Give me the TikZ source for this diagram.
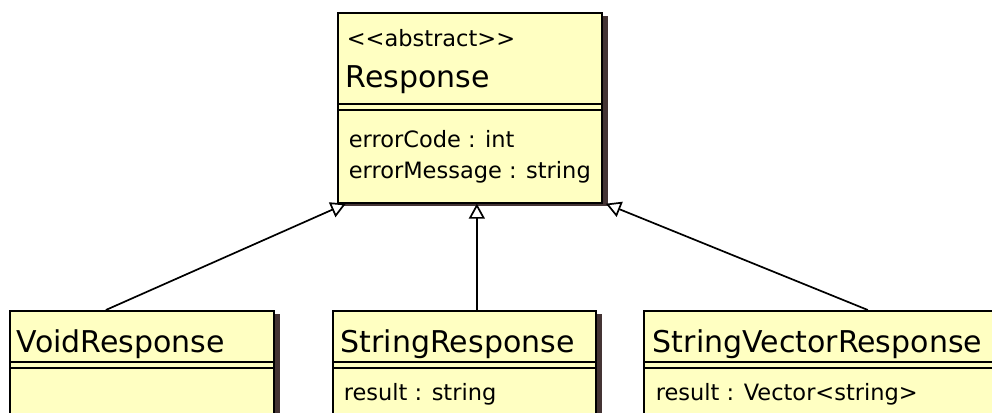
\documentclass[tikz,border=0pt]{standalone}
\usepackage{fontspec}
\setmainfont{DejaVu Sans}
\usetikzlibrary{arrows.meta, positioning, calc, shadows}

\definecolor{classfill}{HTML}{FFFFC2}
\definecolor{classshadow}{HTML}{443434}

\begin{document}
\begin{tikzpicture}[
    x=1pt, y=-1pt,
    line width=1.7pt,
    umlclass/.style={draw, rectangle, fill=classfill, inner sep=0pt, anchor=north west,
                     drop shadow={shadow xshift=6pt, shadow yshift=-3.5pt,
                                  fill=classshadow, opacity=1}},
    classname/.style={anchor=base west, inner sep=0pt, font=\fontsize{30}{36}\selectfont},
    member/.style={anchor=base west, inner sep=0pt, font=\fontsize{22.5}{27}\selectfont},
    extends/.style={-{Triangle[length=15pt, width=16pt, fill=white]}},
]

\path[use as bounding box, clip] (0,0) rectangle (992,412);

% --- Base class ---
\node[umlclass, minimum width=264pt, minimum height=190pt] (resp) at (337,12) {};
\node[member] (resp-stereo) at (346,46) {<{}<abstract>{}>};
\node[classname] (resp-name) at (345,87) {Response};
\draw (resp.west |- 0,104) -- (resp.east |- 0,104);
\draw (resp.west |- 0,110) -- (resp.east |- 0,110);
\node[member] (resp-code) at (348,147) {errorCode : int};
\node[member] (resp-msg) at (348,178) {errorMessage : string};

% --- Subclasses ---
\node[umlclass, minimum width=264pt, minimum height=200pt] (void) at (9,310) {};
\node[classname] (void-name) at (16,352) {VoidResponse};
\draw (void.west |- 0,362) -- (void.east |- 0,362);
\draw (void.west |- 0,368) -- (void.east |- 0,368);

\node[umlclass, minimum width=263pt, minimum height=200pt] (str) at (332,310) {};
\node[classname] (str-name) at (340,352) {StringResponse};
\draw (str.west |- 0,362) -- (str.east |- 0,362);
\draw (str.west |- 0,368) -- (str.east |- 0,368);
\node[member] (str-result) at (343,400) {result : string};

\node[umlclass, minimum width=355pt, minimum height=200pt] (strvec) at (643,310) {};
\node[classname] (strvec-name) at (652,352) {StringVectorResponse};
\draw (strvec.west |- 0,362) -- (strvec.east |- 0,362);
\draw (strvec.west |- 0,368) -- (strvec.east |- 0,368);
\node[member] (strvec-result) at (655,400) {result : Vector<string>};

% --- Generalisations ---
\draw[extends] ([xshift=-36pt]void.north) -- ([xshift=-124pt]resp.south);
\draw[extends] ([xshift=12.5pt]str.north) -- ([xshift=7pt]resp.south);
\draw[extends] ([xshift=46.5pt]strvec.north) -- ([xshift=136pt]resp.south);

\end{tikzpicture}
\end{document}
